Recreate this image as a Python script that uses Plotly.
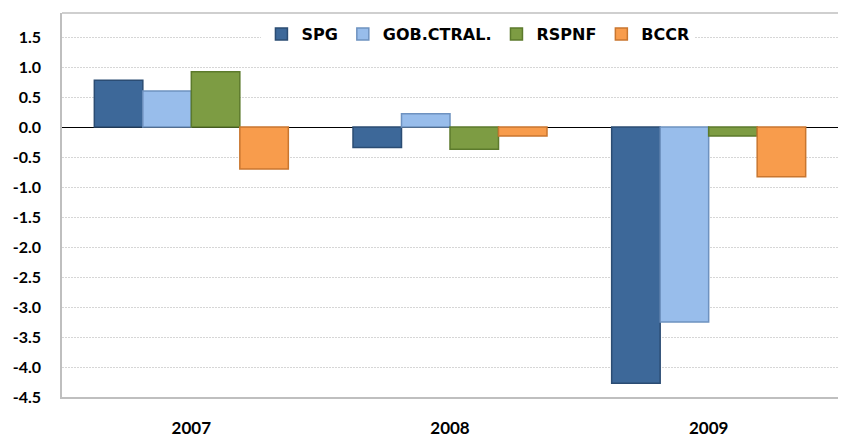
import plotly.graph_objects as go

years = ["2007", "2008", "2009"]
series_names = ["SPG", "GOB.CTRAL.", "RSPNF", "BCCR"]
spg = [0.78, -0.34, -4.27]
gob = [0.60, 0.22, -3.25]
rspnf = [0.92, -0.37, -0.15]
bccr = [-0.70, -0.15, -0.83]
ytick_vals = [1.5, 1.0, 0.5, 0.0, -0.5, -1.0, -1.5, -2.0, -2.5, -3.0, -3.5, -4.0, -4.5]
ytick_text = ["1.5", "1.0", "0.5", "0.0", "-0.5", "-1.0", "-1.5", "-2.0", "-2.5", "-3.0", "-3.5", "-4.0", "-4.5"]

fills = ["#3D6899", "#98BDEB", "#7D9C43", "#F89C4C"]
edges = ["#2B4C73", "#6E92C0", "#5C7A2C", "#C9762F"]
values = [spg, gob, rspnf, bccr]

fig = go.Figure()
for name, vals, fc, ec in zip(series_names, values, fills, edges):
    fig.add_trace(go.Bar(
        x=years, y=vals, name=name,
        marker=dict(color=fc, line=dict(color=ec, width=1.5)),
    ))

fig.update_layout(
    width=843, height=439,
    margin=dict(l=62, r=5, t=13, b=42),
    paper_bgcolor="white", plot_bgcolor="white",
    barmode="group", bargap=0.25, bargroupgap=0,
    showlegend=True,
    legend=dict(
        orientation="h", x=0.536, xanchor="center", y=0.945, yanchor="middle",
        bgcolor="white",
        font=dict(family="DejaVu Sans", size=16, color="black", weight="bold"),
        itemwidth=30, tracegroupgap=0,
    ),
    font=dict(family="Lato", color="black"),
)
fig.update_yaxes(
    range=[-4.5, 1.9], tickvals=ytick_vals, ticktext=ytick_text,
    showgrid=True, gridcolor="#d6d6d6", griddash="2px,1px", gridwidth=1,
    zeroline=True, zerolinecolor="black", zerolinewidth=1.2,
    showline=True, linecolor="#bfbfbf", linewidth=1.5,
    ticks="", tickfont=dict(family="Lato", size=16, color="black", weight="bold"),
    ticklabelstandoff=16, automargin=False,
)
fig.update_xaxes(
    showline=True, linecolor="#bfbfbf", linewidth=1.5,
    showgrid=False, ticks="",
    tickfont=dict(family="Lato", size=17, color="black", weight="bold"),
    ticklabelstandoff=15, automargin=False,
)
fig.add_shape(type="line", xref="paper", yref="paper", x0=0, x1=1, y0=1, y1=1,
              line=dict(color="#bfbfbf", width=1.5))

fig.write_html("out.html", config={"displayModeBar": False},
               post_script="document.body.style.margin='0px';")
